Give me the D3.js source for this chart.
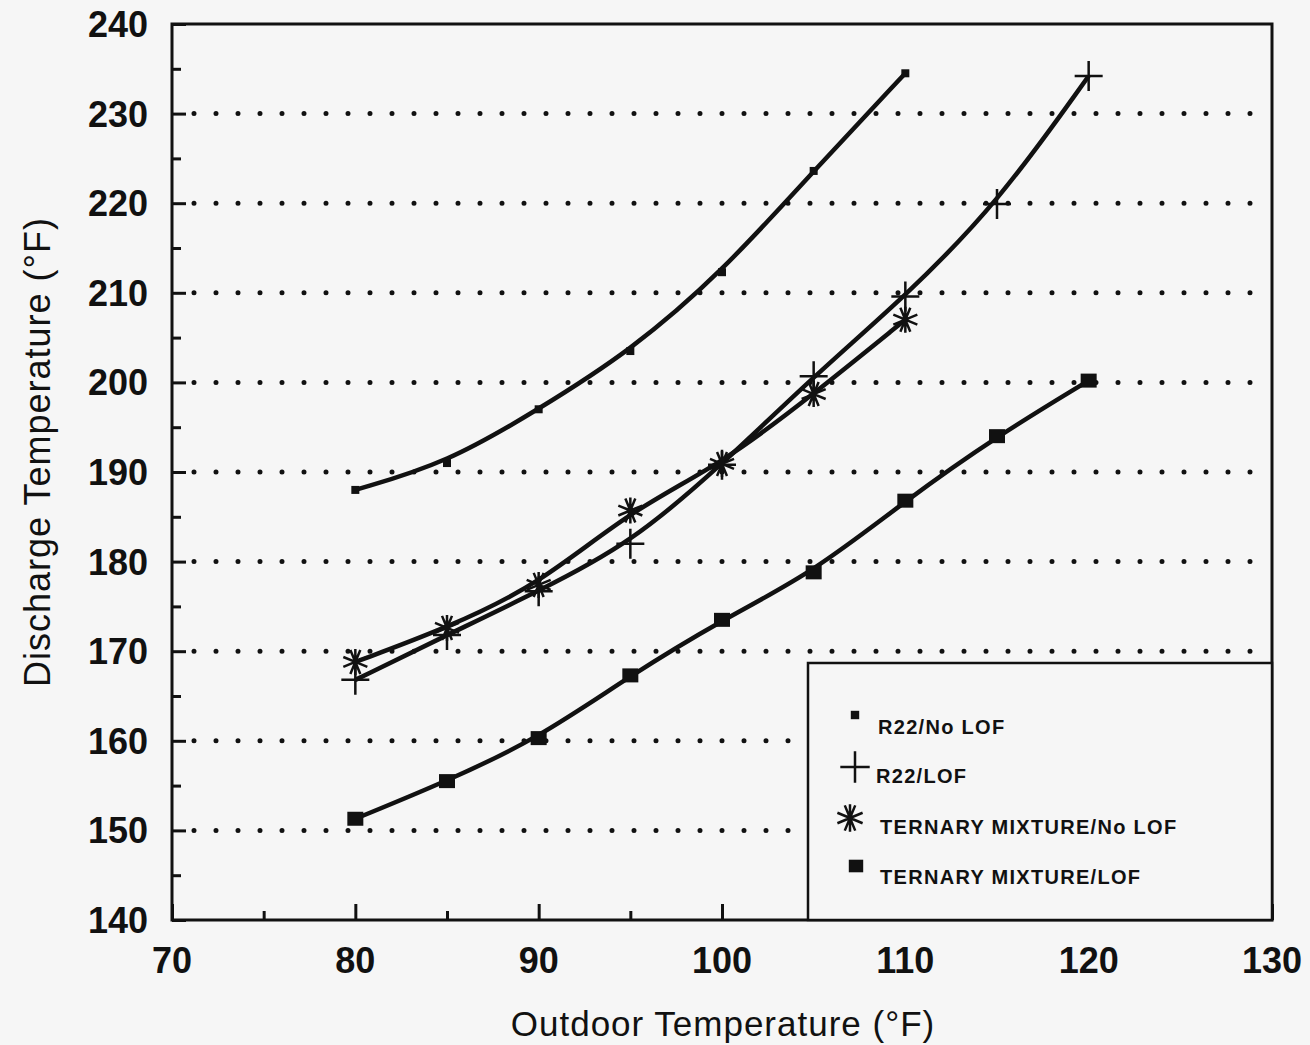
<!DOCTYPE html>
<html>
<head>
<meta charset="utf-8">
<script src="https://cdn.jsdelivr.net/npm/d3@7"></script>
<style>
  body { margin: 0; background: #f6f6f6; }
  svg { display: block; font-family: 'Liberation Sans', Arial, sans-serif; }
</style>
</head>
<body>
<div id="plot"></div>
<script>
const width = 1310;
const height = 1045;
const ink = '#111';

// data
const outdoorShort = [80, 85, 90, 95, 100, 105, 110];
const outdoorLong = [80, 85, 90, 95, 100, 105, 110, 115, 120];
const r22NoLof = [188, 191, 197, 203.5, 212.3, 223.6, 234.5];
const r22Lof = [166.8, 171.8, 176.7, 182, 190.8, 200.7, 209.6, 219.9, 234.2];
const ternaryNoLof = [168.8, 172.6, 177.4, 185.7, 190.9, 198.7, 207];
const ternaryLof = [151.3, 155.5, 160.3, 167.3, 173.5, 178.8, 186.8, 194, 200.2];

const xTicks = [70, 80, 90, 100, 110, 120, 130];
const xMinor = [75, 85, 95, 105, 115, 125];
const yTicks = [140, 150, 160, 170, 180, 190, 200, 210, 220, 230, 240];
const yMinor = [145, 155, 165, 175, 185, 195, 205, 215, 225, 235];
const gridValues = [150, 160, 170, 180, 190, 200, 210, 220, 230];

const series = [
    {name: 'R22/No LOF', marker: 'smallSquare', xs: outdoorShort, ys: r22NoLof},
    {name: 'R22/LOF', marker: 'plus', xs: outdoorLong, ys: r22Lof},
    {name: 'TERNARY MIXTURE/No LOF', marker: 'star', xs: outdoorShort, ys: ternaryNoLof},
    {name: 'TERNARY MIXTURE/LOF', marker: 'bigSquare', xs: outdoorLong, ys: ternaryLof}
];

const margin = {t: 24, r: 38, b: 125, l: 172};

const x = d3.scaleLinear().domain([70, 130]).range([margin.l, width - margin.r]);
const y = d3.scaleLinear().domain([140, 240]).range([height - margin.b, margin.t]);

const svg = d3.select('#plot')
    .append('svg')
    .attr('width', width)
    .attr('height', height);

// dotted grid lines
svg.append('g')
    .selectAll('line')
    .data(gridValues)
    .join('line')
    .attr('x1', x(70) + 22)
    .attr('x2', x(130) - 4)
    .attr('y1', d => y(d))
    .attr('y2', d => y(d))
    .attr('stroke', ink)
    .attr('stroke-width', 5)
    .attr('stroke-linecap', 'round')
    .attr('stroke-dasharray', '0 22');

// axes
const yAxis = svg.append('g')
    .attr('transform', `translate(${margin.l},0)`)
    .call(d3.axisRight(y).tickValues(yTicks).tickSize(14).tickFormat(''));
const yAxisMinor = svg.append('g')
    .attr('transform', `translate(${margin.l},0)`)
    .call(d3.axisRight(y).tickValues(yMinor).tickSize(9).tickFormat(''));
const xAxis = svg.append('g')
    .attr('transform', `translate(0,${height - margin.b})`)
    .call(d3.axisTop(x).tickValues(xTicks).tickSize(16).tickFormat(''));
const xAxisMinor = svg.append('g')
    .attr('transform', `translate(0,${height - margin.b})`)
    .call(d3.axisTop(x).tickValues(xMinor).tickSize(9).tickFormat(''));

[yAxis, yAxisMinor, xAxis, xAxisMinor].forEach(g => {
    g.select('.domain').remove();
    g.selectAll('line').attr('stroke', ink).attr('stroke-width', 3);
});

// frame
svg.append('rect')
    .attr('x', x(70))
    .attr('y', y(240))
    .attr('width', x(130) - x(70))
    .attr('height', y(140) - y(240))
    .attr('fill', 'none')
    .attr('stroke', ink)
    .attr('stroke-width', 3);

// tick labels
svg.append('g')
    .selectAll('text')
    .data(yTicks)
    .join('text')
    .attr('x', margin.l - 24)
    .attr('y', d => y(d))
    .attr('dy', '0.36em')
    .attr('text-anchor', 'end')
    .attr('font-size', 36)
    .attr('font-weight', 'bold')
    .attr('fill', ink)
    .text(d => d);

svg.append('g')
    .selectAll('text')
    .data(xTicks)
    .join('text')
    .attr('x', d => x(d))
    .attr('y', height - margin.b + 53)
    .attr('text-anchor', 'middle')
    .attr('font-size', 36)
    .attr('font-weight', 'bold')
    .attr('fill', ink)
    .text(d => d);

// axis titles
svg.append('text')
    .attr('x', 723)
    .attr('y', 1036)
    .attr('text-anchor', 'middle')
    .attr('font-size', 35)
    .attr('letter-spacing', 1)
    .attr('fill', ink)
    .text('Outdoor Temperature (°F)');

svg.append('text')
    .attr('transform', 'translate(50,452) rotate(-90)')
    .attr('text-anchor', 'middle')
    .attr('font-size', 36)
    .attr('letter-spacing', 1)
    .attr('fill', ink)
    .text('Discharge Temperature (°F)');

// curves
const line = d3.line()
    .x(d => x(d[0]))
    .y(d => y(d[1]))
    .curve(d3.curveBasis);

const plotLines = svg.append('g');
const plotMarks = svg.append('g');

function drawMarker(g, type, cx, cy, scale) {
    const s = scale || 1;
    if (type === 'smallSquare') {
        g.append('rect')
            .attr('x', cx - 4 * s).attr('y', cy - 4 * s)
            .attr('width', 8 * s).attr('height', 8 * s)
            .attr('fill', ink);
    } else if (type === 'bigSquare') {
        g.append('rect')
            .attr('x', cx - 8 * s).attr('y', cy - 7 * s)
            .attr('width', 16 * s).attr('height', 14 * s)
            .attr('fill', ink);
    } else if (type === 'plus') {
        g.append('path')
            .attr('d', `M${cx - 14 * s},${cy}H${cx + 14 * s}M${cx},${cy - 15 * s}V${cy + 15 * s}`)
            .attr('stroke', ink)
            .attr('stroke-width', 2.5)
            .attr('fill', 'none');
    } else if (type === 'star') {
        const r = 13 * s;
        const spokes = d3.range(8).map(i => {
            const a = i * Math.PI / 4 + Math.PI / 8;
            return `M${cx},${cy}L${cx + r * Math.cos(a)},${cy + r * Math.sin(a)}`;
        }).join('') + `M${cx},${cy - r}V${cy + r}`;
        g.append('path')
            .attr('d', spokes)
            .attr('stroke', ink)
            .attr('stroke-width', 2.5)
            .attr('fill', 'none');
    }
}

series.forEach(sr => {
    const pts = sr.xs.map((v, i) => [v, sr.ys[i]]);
    plotLines.append('path')
        .datum(pts)
        .attr('d', line)
        .attr('fill', 'none')
        .attr('stroke', ink)
        .attr('stroke-width', 4.5);
    pts.forEach(p => drawMarker(plotMarks, sr.marker, x(p[0]), y(p[1])));
});

// legend
const legend = svg.append('g');
legend.append('rect')
    .attr('x', 808)
    .attr('y', 663)
    .attr('width', x(130) - 808)
    .attr('height', y(140) - 663)
    .attr('fill', '#f6f6f6')
    .attr('stroke', ink)
    .attr('stroke-width', 2.5);

const legendRows = [
    {mx: 855, my: 715, tx: 878, ty: 734},
    {mx: 855, my: 767, tx: 876, ty: 783},
    {mx: 850, my: 818, tx: 880, ty: 834},
    {mx: 856, my: 866, tx: 880, ty: 884}
];

series.forEach((sr, i) => {
    const row = legendRows[i];
    drawMarker(legend, sr.marker, row.mx, row.my, sr.marker === 'bigSquare' ? 0.9 : 1.05);
    legend.append('text')
        .attr('x', row.tx)
        .attr('y', row.ty)
        .attr('font-size', 20)
        .attr('font-weight', 'bold')
        .attr('letter-spacing', 1.3)
        .attr('fill', ink)
        .text(sr.name.toUpperCase().replace('NO LOF', 'No LOF'));
});
</script>
</body>
</html>
